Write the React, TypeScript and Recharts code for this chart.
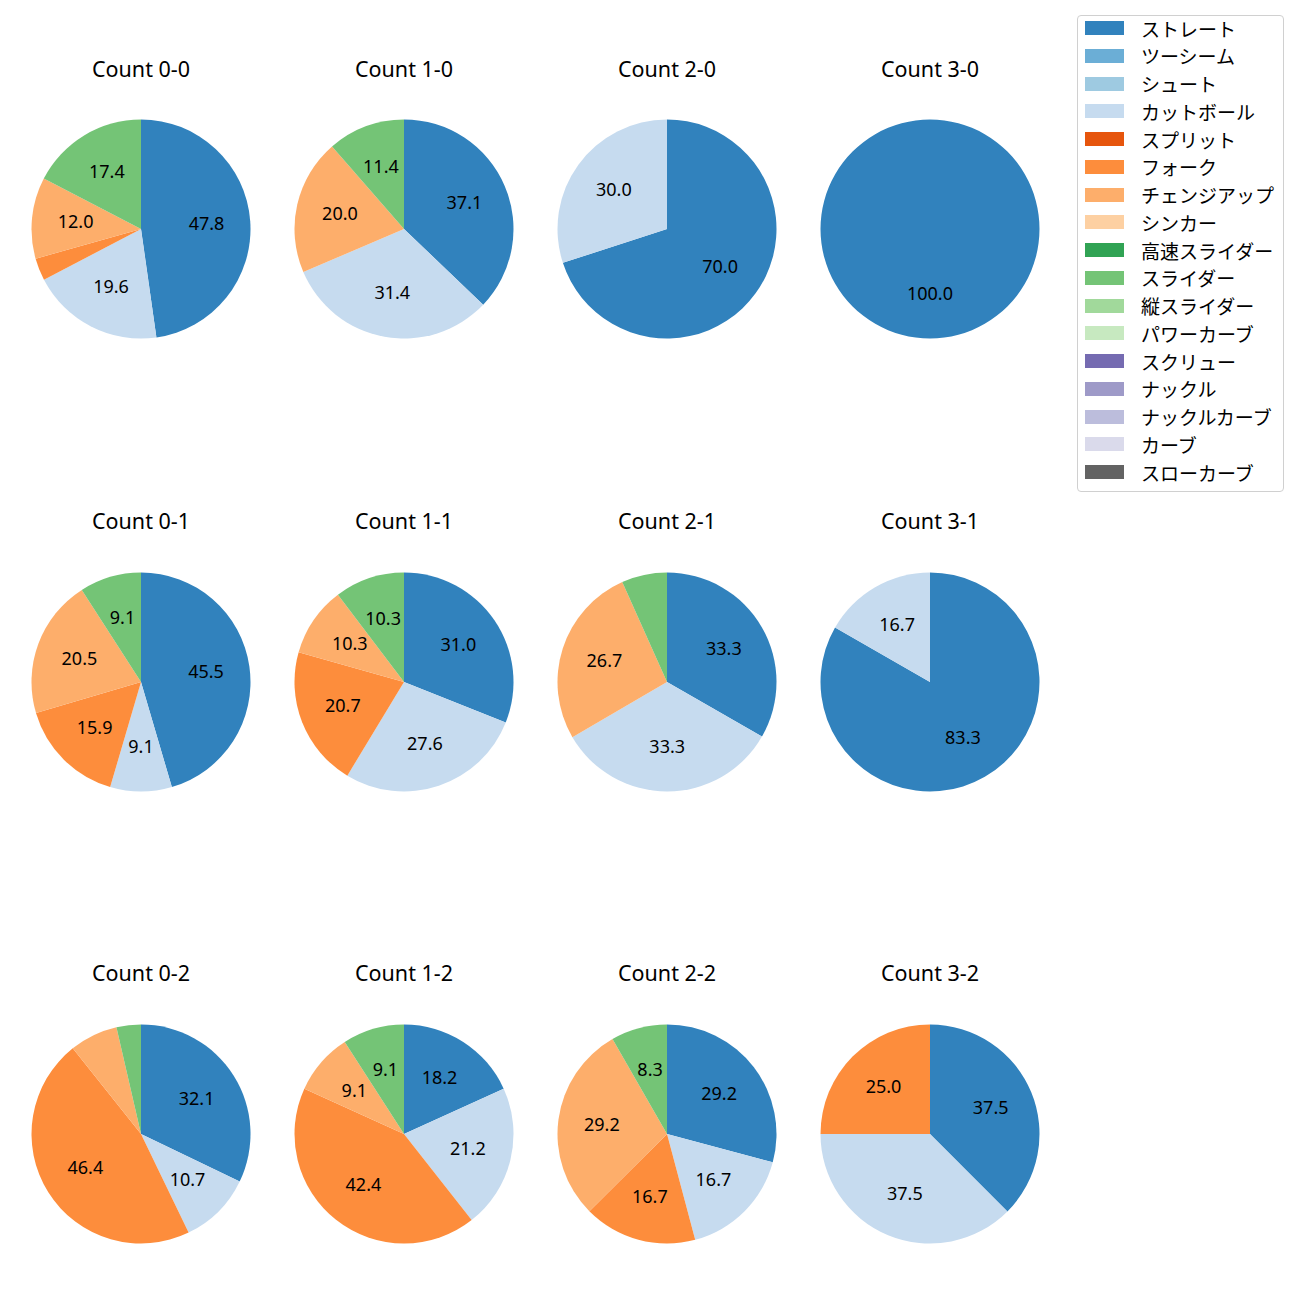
import React from "react";
import { PieChart, Pie, Cell } from "recharts";

const pitchNames = [
  "ストレート",
  "ツーシーム",
  "シュート",
  "カットボール",
  "スプリット",
  "フォーク",
  "チェンジアップ",
  "シンカー",
  "高速スライダー",
  "スライダー",
  "縦スライダー",
  "パワーカーブ",
  "スクリュー",
  "ナックル",
  "ナックルカーブ",
  "カーブ",
  "スローカーブ",
];

const pitchColors = [
  "#3182bd",
  "#6baed6",
  "#9ecae1",
  "#c6dbef",
  "#e6550d",
  "#fd8d3c",
  "#fdae6b",
  "#fdd0a2",
  "#31a354",
  "#74c476",
  "#a1d99b",
  "#c7e9c0",
  "#756bb1",
  "#9e9ac8",
  "#bcbddc",
  "#dadaeb",
  "#636363",
];

const countTitles = [
  "Count 0-0", "Count 1-0", "Count 2-0", "Count 3-0",
  "Count 0-1", "Count 1-1", "Count 2-1", "Count 3-1",
  "Count 0-2", "Count 1-2", "Count 2-2", "Count 3-2",
];

// percentages per pitch type, same order as pitchNames
const count00 = [47.8, 0, 0, 19.6, 0, 3.3, 12.0, 0, 0, 17.4, 0, 0, 0, 0, 0, 0, 0];
const count10 = [37.1, 0, 0, 31.4, 0, 0, 20.0, 0, 0, 11.4, 0, 0, 0, 0, 0, 0, 0];
const count20 = [70.0, 0, 0, 30.0, 0, 0, 0, 0, 0, 0, 0, 0, 0, 0, 0, 0, 0];
const count30 = [100.0, 0, 0, 0, 0, 0, 0, 0, 0, 0, 0, 0, 0, 0, 0, 0, 0];
const count01 = [45.5, 0, 0, 9.1, 0, 15.9, 20.5, 0, 0, 9.1, 0, 0, 0, 0, 0, 0, 0];
const count11 = [31.0, 0, 0, 27.6, 0, 20.7, 10.3, 0, 0, 10.3, 0, 0, 0, 0, 0, 0, 0];
const count21 = [33.3, 0, 0, 33.3, 0, 0, 26.7, 0, 0, 6.7, 0, 0, 0, 0, 0, 0, 0];
const count31 = [83.3, 0, 0, 16.7, 0, 0, 0, 0, 0, 0, 0, 0, 0, 0, 0, 0, 0];
const count02 = [32.1, 0, 0, 10.7, 0, 46.4, 7.1, 0, 0, 3.6, 0, 0, 0, 0, 0, 0, 0];
const count12 = [18.2, 0, 0, 21.2, 0, 42.4, 9.1, 0, 0, 9.1, 0, 0, 0, 0, 0, 0, 0];
const count22 = [29.2, 0, 0, 16.7, 0, 16.7, 29.2, 0, 0, 8.3, 0, 0, 0, 0, 0, 0, 0];
const count32 = [37.5, 0, 0, 37.5, 0, 25.0, 0, 0, 0, 0, 0, 0, 0, 0, 0, 0, 0];

const allCounts = [
  count00, count10, count20, count30,
  count01, count11, count21, count31,
  count02, count12, count22, count32,
];

const colX = [141, 404, 667, 930];
const rowY = [229, 682, 1134];
const titleY = [69, 521, 973];
const R = 109.5;
const BOX = 240;
const LATIN = "'Noto Sans', sans-serif";
const JP = "'Noto Sans CJK JP', sans-serif";
const RADIAN = Math.PI / 180;

const renderLabel = (props: any) => {
  const { cx, cy, midAngle, outerRadius, value } = props;
  if (!value || value < 8) return null;
  const r = outerRadius * 0.6;
  const x = cx + r * Math.cos(-midAngle * RADIAN);
  const y = cy + r * Math.sin(-midAngle * RADIAN) - 1.5;
  return (
    <text
      x={x}
      y={y}
      fill="#000"
      textAnchor="middle"
      dominantBaseline="central"
      fontSize={18}
      fontFamily={LATIN}
    >
      {value.toFixed(1)}
    </text>
  );
};

function CountPie({ idx }: { idx: number }) {
  const cx = colX[idx % 4];
  const cy = rowY[Math.floor(idx / 4)];
  const ty = titleY[Math.floor(idx / 4)];
  const data = allCounts[idx].map((v, i) => ({ name: pitchNames[i], value: v, color: pitchColors[i] }));
  return (
    <>
      <div
        style={{
          position: "absolute",
          left: cx - 120,
          width: 240,
          top: ty - 15,
          height: 30,
          lineHeight: "30px",
          textAlign: "center",
          fontSize: 21.5,
          fontFamily: LATIN,
          color: "#000",
        }}
      >
        {countTitles[idx]}
      </div>
      <div style={{ position: "absolute", left: cx - BOX / 2, top: cy - BOX / 2 }}>
        <PieChart width={BOX} height={BOX} margin={{ top: 0, right: 0, bottom: 0, left: 0 }}>
          <Pie
            data={data}
            dataKey="value"
            cx={BOX / 2}
            cy={BOX / 2}
            outerRadius={R}
            startAngle={90}
            endAngle={-270}
            stroke="none"
            label={renderLabel}
            labelLine={false}
            isAnimationActive={false}
          >
            {data.map((d, i) => (
              <Cell key={i} fill={d.color} />
            ))}
          </Pie>
        </PieChart>
      </div>
    </>
  );
}

export default function App() {
  return (
    <div
      style={{
        position: "absolute",
        left: 0,
        top: 0,
        width: 1300,
        height: 1300,
        background: "#fff",
      }}
    >
      {countTitles.map((_, i) => (
        <CountPie key={i} idx={i} />
      ))}
      <div
        style={{
          position: "absolute",
          left: 1077,
          top: 15,
          width: 205,
          height: 475,
          border: "1px solid #d0d0d0",
          borderRadius: 4,
          background: "#fff",
        }}
      >
        {pitchNames.map((n, i) => (
          <div
            key={i}
            style={{
              position: "absolute",
              left: 7,
              top: i * 27.75 - 2,
              height: 28,
              display: "flex",
              alignItems: "center",
              fontFamily: JP,
              fontSize: 19,
              color: "#000",
              whiteSpace: "nowrap",
            }}
          >
            <span
              style={{
                display: "inline-block",
                width: 39,
                height: 14,
                background: pitchColors[i],
                marginRight: 17,
              }}
            />
            {n}
          </div>
        ))}
      </div>
    </div>
  );
}
